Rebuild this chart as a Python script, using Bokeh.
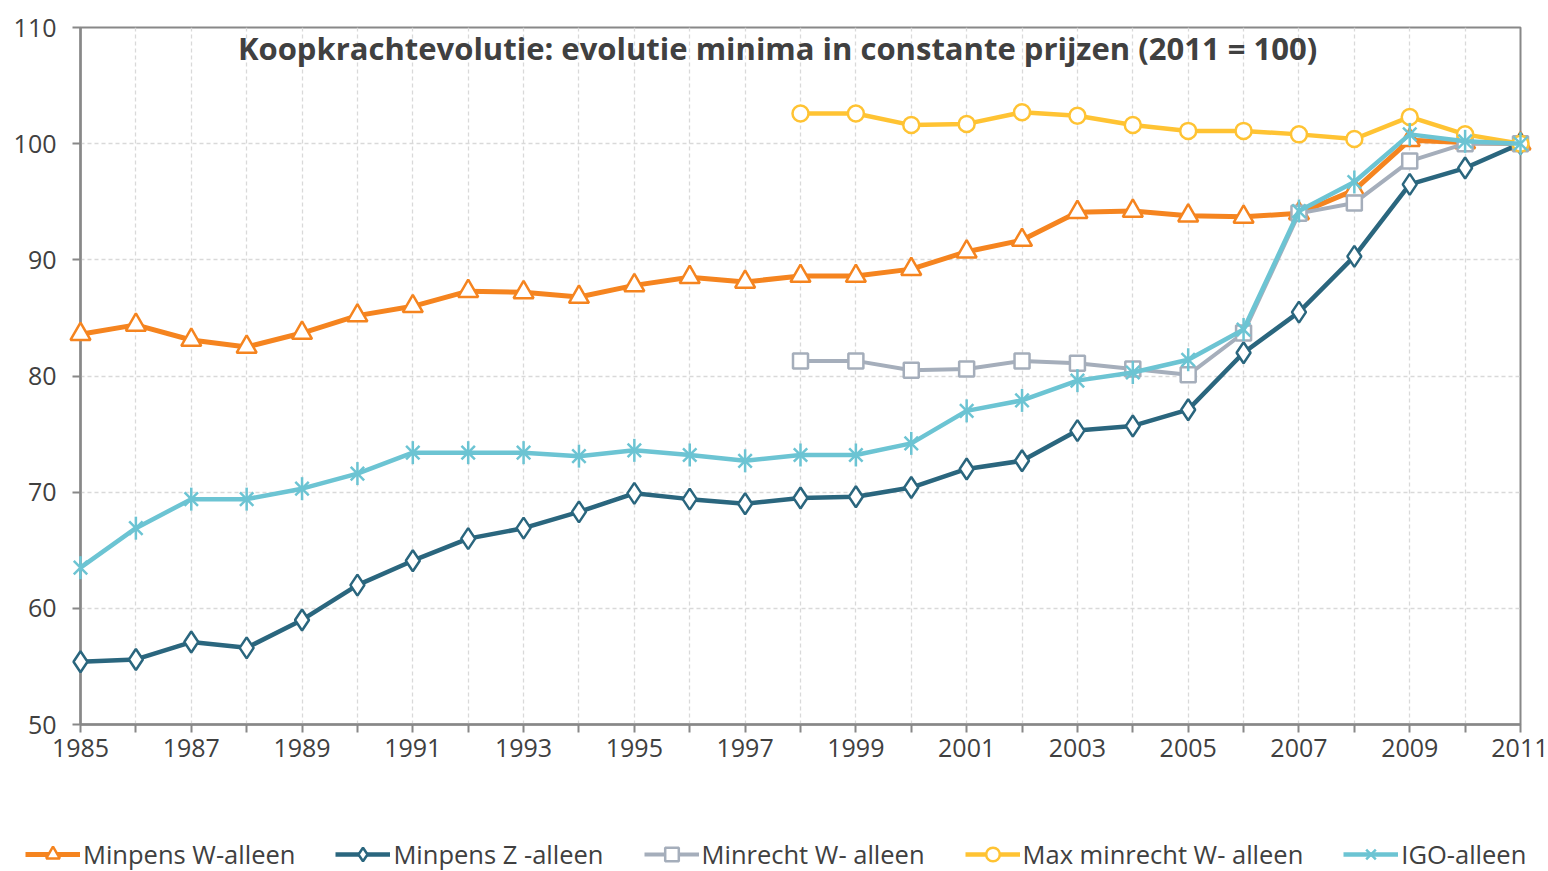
import math
from bokeh.plotting import figure
from bokeh.layouts import column
from bokeh.models import (FixedTicker, Label, Legend, LegendItem)
from bokeh.embed import file_html
from bokeh.resources import INLINE

# ---------------- data ----------------
years = list(range(1985, 2012))
years_late = list(range(1998, 2012))

minpens_w = [83.6, 84.4, 83.1, 82.5, 83.7, 85.2, 86.0, 87.3, 87.2, 86.8, 87.8, 88.5, 88.1,
             88.6, 88.6, 89.2, 90.7, 91.7, 94.1, 94.2, 93.8, 93.7, 94.0, 96.0, 100.3, 100.1, 100.0]
minpens_z = [55.4, 55.6, 57.1, 56.6, 59.0, 62.0, 64.1, 66.0, 66.9, 68.3, 69.9, 69.4, 69.0,
             69.5, 69.6, 70.4, 72.0, 72.7, 75.3, 75.7, 77.1, 82.0, 85.5, 90.3, 96.5, 97.9, 100.0]
minrecht_w = [81.3, 81.3, 80.5, 80.6, 81.3, 81.1, 80.6, 80.1, 83.7, 94.0, 94.9, 98.5, 100.0, 100.0]
max_minrecht_w = [102.6, 102.6, 101.6, 101.7, 102.7, 102.4, 101.6, 101.1, 101.1, 100.8, 100.4,
                  102.3, 100.8, 100.0]
igo = [63.5, 66.9, 69.4, 69.4, 70.3, 71.6, 73.4, 73.4, 73.4, 73.1, 73.6, 73.2, 72.7,
       73.2, 73.2, 74.2, 77.0, 77.9, 79.6, 80.3, 81.4, 84.0, 94.2, 96.7, 100.8, 100.2, 100.0]

labels = ["Minpens W-alleen", "Minpens Z -alleen", "Minrecht W- alleen",
          "Max minrecht W- alleen", "IGO-alleen"]
title_text = "Koopkrachtevolutie: evolutie minima in constante prijzen (2011 = 100)"
y_ticks = [50, 60, 70, 80, 90, 100, 110]

# ---------------- style ----------------
FONT = "Open Sans"
TXT = "#404040"
AX = "#888888"
C_OR = "#F5841F"
C_DK = "#2A667E"
C_GR = "#A5AEBB"
C_YL = "#FFC333"
C_LB = "#6CC4D3"

p = figure(width=1548, height=790, x_range=(1985, 2011), y_range=(50, 110),
           output_backend="svg", toolbar_location=None,
           min_border_left=80, min_border_right=28, min_border_top=27, min_border_bottom=66)
p.frame_align = False

p.outline_line_color = AX
p.outline_line_width = 2
p.background_fill_color = "white"
p.border_fill_color = "white"

# axes
p.xaxis.ticker = FixedTicker(ticks=years)
p.xaxis.major_label_overrides = {y: ("" if y % 2 == 0 else str(y)) for y in years}
p.yaxis.ticker = FixedTicker(ticks=y_ticks)
for ax in (p.xaxis[0], p.yaxis[0]):
    ax.axis_line_color = AX
    ax.axis_line_width = 2.5
    ax.major_tick_line_color = AX
    ax.major_tick_line_width = 2
    ax.major_tick_in = 0
    ax.major_tick_out = 8
    ax.minor_tick_line_color = None
    ax.major_label_text_font = FONT
    ax.major_label_text_font_size = "25px"
    ax.major_label_text_color = TXT
p.xaxis.major_label_standoff = 6
p.yaxis.major_label_standoff = 16

# grid
for g in (p.xgrid[0], p.ygrid[0]):
    g.grid_line_color = "#D9D9D9"
    g.grid_line_dash = "4 3"
    g.grid_line_width = 1.3


# ---------------- series ----------------
def add_series(fig, xs, ys, color, lw, marker_specs):
    rends = [fig.line(xs, ys, line_color=color, line_width=lw, level="overlay")]
    for spec in marker_specs:
        rends.append(fig.scatter(xs, ys, line_color=color, line_width=2.5,
                                 fill_color="white", level="overlay", **spec))
    return rends


def all_series(fig):
    return [
        add_series(fig, years, minpens_w, C_OR, 5, [dict(marker="triangle", size=20)]),
        add_series(fig, years, minpens_z, C_DK, 4.5, [dict(marker="diamond", size=21)]),
        add_series(fig, years_late, minrecht_w, C_GR, 4, [dict(marker="square", size=15)]),
        add_series(fig, years_late, max_minrecht_w, C_YL, 4.5, [dict(marker="circle", size=16)]),
        add_series(fig, years, igo, C_LB, 4.5,
                   [dict(marker="x", size=19), dict(marker="dash", size=23, angle=math.pi / 2)]),
    ]


all_series(p)

# ---------------- title ----------------
p.add_layout(Label(x=1997.585, y=108.2, text=title_text, text_font=FONT,
                   text_font_size="31px", text_font_style="bold", text_color=TXT,
                   text_align="center", text_baseline="middle"))

# ---------------- legend strip ----------------
lf = figure(width=1548, height=81, x_range=(1985, 2011), y_range=(1000, 1001),
            output_backend="svg", toolbar_location=None,
            x_axis_location=None, y_axis_location=None,
            min_border_left=0, min_border_right=0, min_border_top=0, min_border_bottom=0)
lf.frame_align = False
lf.outline_line_color = None
lf.grid.visible = False
lf.background_fill_color = "white"
lf.border_fill_color = "white"
leg_items = all_series(lf)

legend = Legend(items=[LegendItem(label=lab, renderers=r) for lab, r in zip(labels, leg_items)],
                location=(25, 0), orientation="horizontal",
                glyph_width=55, glyph_height=34, label_standoff=3, spacing=40,
                padding=0, margin=0, border_line_alpha=0, background_fill_alpha=0,
                label_text_font=FONT, label_text_font_size="25.5px", label_text_color=TXT,
                label_height=34)
lf.add_layout(legend, "center")

layout = column(p, lf, spacing=0)
open("out.html", "w").write(file_html(layout, INLINE))
